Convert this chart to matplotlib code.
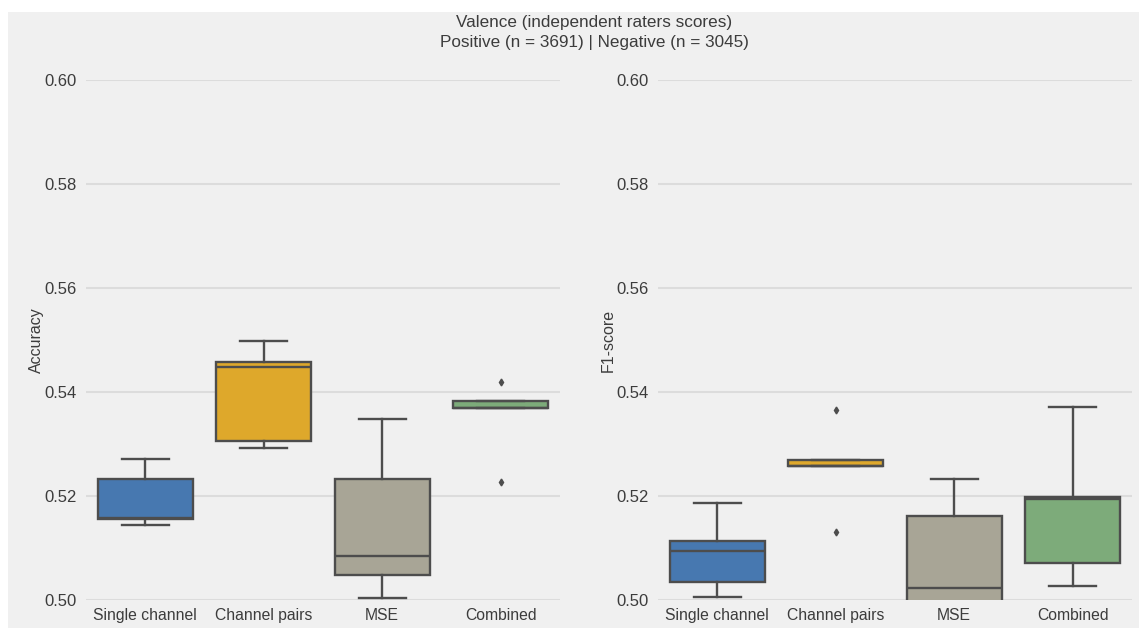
import matplotlib.pyplot as plt
from matplotlib.patches import Rectangle

plt.rcParams['font.family'] = ['Liberation Sans', 'DejaVu Sans']

categories = ["Single channel", "Channel pairs", "MSE", "Combined"]
colors = ["#4778b0", "#dea82b", "#a8a596", "#7dab7a"]

# Accuracy box statistics per feature set
acc_whislo = [0.5144, 0.5292, 0.5004, 0.5369]
acc_q1 = [0.5155, 0.5306, 0.5048, 0.5369]
acc_med = [0.5158, 0.5449, 0.5084, 0.5369]
acc_q3 = [0.5233, 0.5458, 0.5233, 0.5382]
acc_whishi = [0.5271, 0.5499, 0.5348, 0.5382]
acc_fliers = [[], [], [], [0.5419, 0.5226]]

# F1-score box statistics per feature set
f1_whislo = [0.5006, 0.5257, 0.4950, 0.5027]
f1_q1 = [0.5035, 0.5257, 0.4985, 0.5071]
f1_med = [0.5095, 0.5257, 0.5024, 0.5195]
f1_q3 = [0.5113, 0.5270, 0.5161, 0.5199]
f1_whishi = [0.5186, 0.5270, 0.5232, 0.5371]
f1_fliers = [[], [0.5365, 0.5130], [], []]

yticks = [0.50, 0.52, 0.54, 0.56, 0.58, 0.60]

bg = "#f0f0f0"
edge = "#4d4d4d"
text_color = "#3c3c3c"

fig = plt.figure(figsize=(11.39, 6.28), dpi=100, facecolor="white")
fig.patches.append(Rectangle((8 / 1139, 0), 1, 1 - 12 / 628,
                             transform=fig.transFigure, facecolor=bg,
                             edgecolor="none", zorder=-10))


def make_stats(whislo, q1, med, q3, whishi, fliers):
    return [dict(whislo=a, q1=b, med=c, q3=d, whishi=e, fliers=f)
            for a, b, c, d, e, f in zip(whislo, q1, med, q3, whishi, fliers)]


panels = [
    ("Accuracy", make_stats(acc_whislo, acc_q1, acc_med, acc_q3, acc_whishi, acc_fliers), 86),
    ("F1-score", make_stats(f1_whislo, f1_q1, f1_med, f1_q3, f1_whishi, f1_fliers), 658),
]

lw = 1.7
for ylabel, stats, x0 in panels:
    ax = fig.add_axes([x0 / 1139, 1 - 600 / 628, 474 / 1139, 520 / 628])
    ax.set_facecolor(bg)
    bp = ax.bxp(stats, positions=range(len(categories)), widths=0.8,
                patch_artist=True, capwidths=0.4,
                boxprops=dict(edgecolor=edge, linewidth=lw),
                medianprops=dict(color=edge, linewidth=lw),
                whiskerprops=dict(color=edge, linewidth=lw),
                capprops=dict(color=edge, linewidth=lw),
                flierprops=dict(marker="d", markersize=3.5, markerfacecolor=edge,
                                markeredgecolor=edge))
    for box, c in zip(bp["boxes"], colors):
        box.set_facecolor(c)
    ax.set_xlim(-0.5, 3.5)
    ax.set_ylim(0.50, 0.60)
    ax.set_yticks(yticks)
    ax.set_yticklabels([f"{t:.2f}" for t in yticks])
    ax.set_xticks(range(len(categories)))
    ax.set_xticklabels(categories)
    ax.yaxis.grid(True, color="#dcdcdc", linewidth=1.5, zorder=0)
    ax.set_axisbelow(True)
    for s in ax.spines.values():
        s.set_visible(False)
    ax.tick_params(axis="both", length=0, labelcolor=text_color)
    ax.tick_params(axis="y", pad=7, labelsize=12)
    ax.tick_params(axis="x", pad=6, labelsize=11.3)
    ax.set_ylabel(ylabel, fontsize=11.5, color=text_color, labelpad=0)

fig.text(0.522, 1 - 22 / 628, "Valence (independent raters scores)",
         ha="center", va="center", fontsize=12.3, color=text_color)
fig.text(0.522, 1 - 42 / 628, "Positive (n = 3691) | Negative (n = 3045)",
         ha="center", va="center", fontsize=12.3, color=text_color)

fig.savefig("out.png", dpi=100, facecolor=fig.get_facecolor())
